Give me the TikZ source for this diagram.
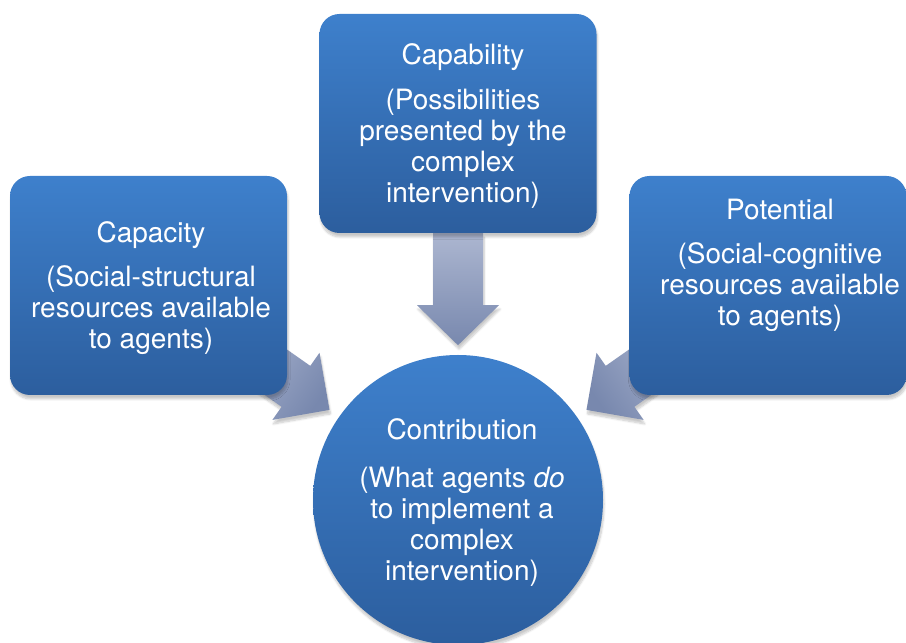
\documentclass[tikz,border=0pt]{standalone}
\usepackage{fontspec}
\setmainfont{TeX Gyre Heros}
\usetikzlibrary{calc,backgrounds,shadows.blur}

\definecolor{boxTop}{RGB}{62,128,204}
\definecolor{boxBot}{RGB}{44,94,158}
\definecolor{arrTop}{RGB}{172,182,208}
\definecolor{arrBot}{RGB}{120,136,174}

\tikzset{
  softshadow/.style={blur shadow={shadow xshift=1pt, shadow yshift=-4pt, shadow blur steps=8, shadow opacity=22}},
  blockbox/.style={rounded corners=20pt, minimum width=277pt, minimum height=219pt,
    top color=boxTop, bottom color=boxBot, softshadow},
  blocktext/.style={text=white, align=center, font=\fontsize{28}{31}\selectfont},
  roundbox/.style={circle, minimum size=290pt, top color=boxTop, bottom color=boxBot, softshadow},
  arrowfill/.style={top color=arrTop, bottom color=arrBot, softshadow}
}

% fat arrow from #1 (tail) to #2 (tip), shading turned by #3
\newcommand\fatarrow[3]{%
  \coordinate (hb) at ($(#1)!72pt!(#2)$); % base of the head
  \path[arrowfill, shading angle=#3]
    ($(#1)!25pt!90:(#2)$) -- ($(hb)!25pt!90:(#2)$) -- ($(hb)!41pt!90:(#2)$) -- (#2)
    -- ($(hb)!41pt!-90:(#2)$) -- ($(hb)!25pt!-90:(#2)$) -- ($(#1)!25pt!-90:(#2)$) -- cycle;
}

\begin{document}
\begin{tikzpicture}[x=1pt,y=1pt]
  \useasboundingbox (0,0) rectangle (906,643);

  \node[blockbox] (cap) at (148.5,357.5) {};
  \node[blocktext] (capText) at (151,355)
    {Capacity\\[13pt](Social-structural\\resources available\\to agents)};
  \node[blockbox] (capab) at (458,519.5) {};
  \node[blocktext] (capabText) at (463,516.5)
    {Capability\\[14pt](Possibilities\\presented by the\\complex\\intervention)};
  \node[blockbox] (pot) at (768,357.5) {};
  \node[blocktext] (potText) at (780,378)
    {Potential\\[13pt](Social-cognitive\\resources available\\to agents)};
  \node[roundbox] (contrib) at (458,143) {};
  \node[blocktext] (contribText) at (462,140)
    {Contribution\\[17pt](What agents \textit{do}\\to implement a\\complex\\intervention)};

  \begin{scope}[on background layer]
    \coordinate (capOut) at ($(cap.center)+(88.5,-59.5)$);
    \coordinate (potOut) at ($(pot.center)+(-89,-59.5)$);
    \coordinate (capTip) at ($(capOut)!113pt!(contrib.center)$);
    \coordinate (potTip) at ($(potOut)!113pt!(contrib.center)$);
    \coordinate (topTip) at ($(capab.south)!112pt!(contrib.center)$);
    \fatarrow{capab.south}{topTip}{0}
    \fatarrow{capOut}{capTip}{55}
    \fatarrow{potOut}{potTip}{-55}
  \end{scope}
\end{tikzpicture}
\end{document}
